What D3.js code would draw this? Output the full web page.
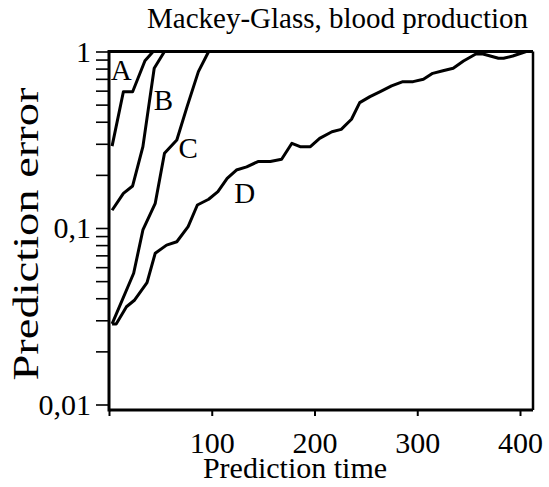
<!DOCTYPE html>
<html>
<head>
<meta charset="utf-8">
<script src="https://cdn.jsdelivr.net/npm/d3@7"></script>
<style>
body { margin: 0; background: #fff; }
text { font-family: "Liberation Serif", "Times New Roman", serif; fill: #000; }
</style>
</head>
<body>
<div id="chart"></div>
<script>
// curves: prediction time and prediction error
const timeA = [3, 14, 23, 35, 43];
const errA  = [0.291, 0.592, 0.592, 0.887, 1.0];

const timeB = [3, 14, 23, 33, 44, 54];
const errB  = [0.126, 0.157, 0.173, 0.289, 0.803, 1.0];

const timeC = [3, 24, 33, 45, 54, 66, 76, 87, 97];
const errC  = [0.0286, 0.0554, 0.0975, 0.138, 0.265, 0.315, 0.487, 0.769, 1.0];

const timeD = [3, 7, 17, 25, 37, 45, 56, 66, 77, 86, 97, 106, 115, 124, 134, 145, 157, 168,
               178, 186, 196, 205, 217, 226, 236, 244, 254, 264, 275, 286, 296, 306, 315,
               325, 335, 345, 357, 364, 379, 384, 393, 406];
const errD  = [0.0286, 0.0286, 0.0358, 0.0391, 0.049, 0.072, 0.080, 0.0836, 0.1017, 0.135,
               0.1455, 0.1607, 0.191, 0.213, 0.222, 0.238, 0.238, 0.245,
               0.302, 0.289, 0.289, 0.322, 0.351, 0.362, 0.413, 0.513, 0.555, 0.592, 0.638,
               0.675, 0.675, 0.696, 0.752, 0.778, 0.803, 0.883, 0.968, 0.968, 0.915, 0.915,
               0.943, 1.0];

const curveNames = ["A", "B", "C", "D"];
// where the letters sit, in data units
const labelTime = [12, 53, 77, 132];
const labelErr  = [0.69, 0.466, 0.249, 0.139];

const xTicks = [0, 100, 200, 300, 400];
const yMajor = [0.01, 0.1, 1];

// size of the page and of the plot
const W = 549, H = 487;
const plotLeft = 109, plotRight = 533, plotTop = 51.5, logBottom = 404.5, frameBottom = 410;

const svg = d3.select("#chart")
    .append("svg")
    .attr("width", W)
    .attr("height", H);

// scales
const x = d3.scaleLinear()
    .domain([0, 400])
    .range([plotLeft, 520]);
const y = d3.scaleLog()
    .domain([0.01, 1])
    .range([logBottom, plotTop]);

// all the minor ticks of a log axis
let yTicks = [];
for (const d of [0.01, 0.1]) {
    for (let k = 1; k < 10; k++) yTicks.push(+(d * k).toPrecision(3));
}
yTicks.push(1);

const fmt = v => yMajor.includes(v) ? String(v).replace(".", ",") : "";

// y axis
const yAxis = svg.append("g")
    .attr("transform", `translate(${plotLeft},0)`)
    .call(d3.axisLeft(y).tickValues(yTicks).tickFormat(fmt).tickSize(13).tickPadding(5));
yAxis.select(".domain").remove();
yAxis.selectAll("line").attr("stroke", "#000").attr("stroke-width", 1.6);
yAxis.selectAll("text")
    .style("font-size", "30px")
    .style("font-family", "Liberation Serif, serif");

// x axis
const xAxis = svg.append("g")
    .attr("transform", `translate(0,${frameBottom})`)
    .call(d3.axisBottom(x).tickValues(xTicks).tickFormat(d => d === 0 ? "" : d).tickSize(6).tickPadding(16));
xAxis.select(".domain").remove();
xAxis.selectAll("line").attr("stroke", "#000").attr("stroke-width", 2);
xAxis.selectAll("text")
    .style("font-size", "30px")
    .style("font-family", "Liberation Serif, serif");

// frame
svg.append("line").attr("x1", plotLeft).attr("x2", plotRight).attr("y1", plotTop).attr("y2", plotTop)
    .attr("stroke", "#000").attr("stroke-width", 3);
svg.append("line").attr("x1", plotRight).attr("x2", plotRight).attr("y1", plotTop).attr("y2", frameBottom)
    .attr("stroke", "#000").attr("stroke-width", 2.5);
svg.append("line").attr("x1", plotLeft).attr("x2", plotRight).attr("y1", frameBottom).attr("y2", frameBottom)
    .attr("stroke", "#000").attr("stroke-width", 3);
svg.append("line").attr("x1", plotLeft).attr("x2", plotLeft).attr("y1", plotTop - 1.5).attr("y2", frameBottom + 1.5)
    .attr("stroke", "#000").attr("stroke-width", 3);

// curves
const line = d3.line()
    .x(d => x(d[0]))
    .y(d => y(d[1]));

const series = [
    d3.zip(timeA, errA),
    d3.zip(timeB, errB),
    d3.zip(timeC, errC),
    d3.zip(timeD, errD)
];

svg.selectAll(".curve")
    .data(series)
    .enter()
    .append("path")
    .attr("class", "curve")
    .attr("d", line)
    .attr("fill", "none")
    .attr("stroke", "#000")
    .attr("stroke-width", 3)
    .attr("stroke-linejoin", "round");

// curve letters
svg.selectAll(".tag")
    .data(curveNames)
    .enter()
    .append("text")
    .attr("class", "tag")
    .attr("x", (d, i) => x(labelTime[i]))
    .attr("y", (d, i) => y(labelErr[i]))
    .attr("text-anchor", "middle")
    .style("font-size", "29px")
    .text(d => d);

// title and axis titles
svg.append("text")
    .attr("x", 528)
    .attr("y", 28)
    .attr("text-anchor", "end")
    .style("font-size", "29px")
    .text("Mackey-Glass, blood production");

svg.append("text")
    .attr("x", 295)
    .attr("y", 478)
    .attr("text-anchor", "middle")
    .style("font-size", "30px")
    .text("Prediction time");

svg.append("text")
    .attr("transform", "translate(38,234) rotate(-90)")
    .attr("text-anchor", "middle")
    .attr("textLength", 293)
    .attr("lengthAdjust", "spacingAndGlyphs")
    .style("font-size", "35px")
    .text("Prediction  error");
</script>
</body>
</html>
